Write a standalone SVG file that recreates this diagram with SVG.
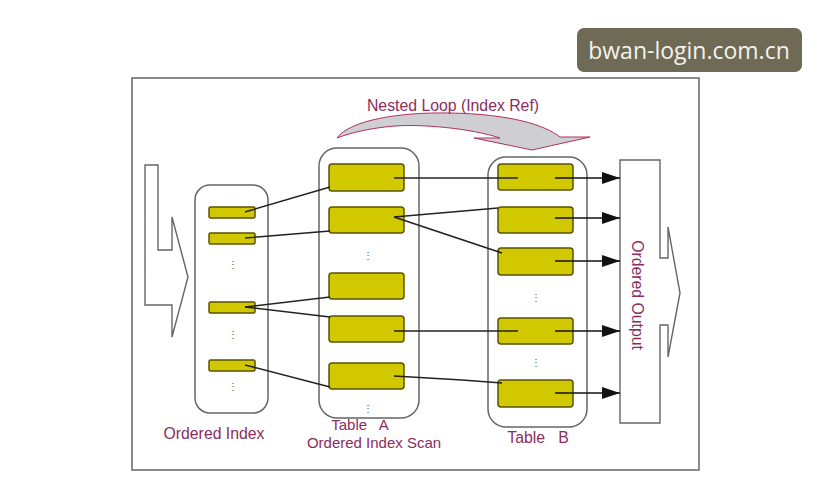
<svg xmlns="http://www.w3.org/2000/svg" width="829" height="502" viewBox="0 0 829 502">
<defs>
<marker id="ah" viewBox="0 0 18 12" refX="18" refY="6" markerWidth="18" markerHeight="12" markerUnits="userSpaceOnUse" orient="auto">
<path d="M0,0 L18,6 L0,12 Z" fill="#111"/>
</marker>
</defs>
<style>
.col{fill:#fff;stroke:#666;stroke-width:1.5}
.y{fill:#d2c800;stroke:#5a5200;stroke-width:1.5}
.ln{stroke:#222;stroke-width:1.4;fill:none}
.ar{stroke:#111;stroke-width:1.4;fill:none;marker-end:url(#ah)}
.lbl{font-family:"Liberation Sans",Arial,sans-serif;font-size:15.8px;fill:#8a2d5e;white-space:pre}
.sm{font-size:15px}
.dots{font-family:"Liberation Sans",Arial,sans-serif;font-size:10px;fill:#555;text-anchor:middle}
.sh{fill:#fff;stroke:#666;stroke-width:1.4}
</style>
<rect width="829" height="502" fill="#fff"/>
<rect x="132" y="78" width="567" height="392" fill="#fff" stroke="#666" stroke-width="1.5"/>

<g id="input-arrow">
<path class="sh" d="M145,165 L158,165 L158,250 L172,250 L172,217 L188,277 L172,337 L172,305 L145,305 Z"/>
</g>

<g id="nested-loop">
<path d="M337,138 C350,120 400,112 450,113 C510,114 545,125 560,137 L590,137 L532,150 L474,138 L500,138 C470,128 420,124 395,126 C370,128 350,133 337,138 Z" fill="#cfcfd2" stroke="#b03060" stroke-width="1"/>
<text class="lbl" x="453" y="111" text-anchor="middle">Nested Loop (Index Ref)</text>
</g>

<g id="ordered-index">
<rect class="col" x="195" y="185" width="73" height="228" rx="15"/>
<rect class="y" x="209" y="207" width="46" height="11" rx="1.5"/>
<rect class="y" x="209" y="233" width="46" height="11" rx="1.5"/>
<rect class="y" x="209" y="302" width="46" height="11" rx="1.5"/>
<rect class="y" x="209" y="360" width="46" height="11" rx="1.5"/>
<text class="dots" x="233" y="268">⋮</text>
<text class="dots" x="233" y="338">⋮</text>
<text class="dots" x="233" y="390">⋮</text>
<text class="lbl" x="214" y="439" text-anchor="middle">Ordered Index</text>
</g>

<g id="table-a">
<rect class="col" x="319" y="148" width="100" height="270" rx="18"/>
<rect class="y" x="329" y="164" width="75" height="27" rx="3"/>
<rect class="y" x="329" y="207" width="75" height="26" rx="3"/>
<rect class="y" x="329" y="273" width="75" height="26" rx="3"/>
<rect class="y" x="329" y="316" width="75" height="26" rx="3"/>
<rect class="y" x="329" y="363" width="75" height="26" rx="3"/>
<text class="dots" x="368" y="259">⋮</text>
<text class="dots" x="368" y="412">⋮</text>
<text class="lbl sm" x="360" y="430" text-anchor="middle" xml:space="preserve">Table   A</text>
<text class="lbl sm" x="374" y="448" text-anchor="middle">Ordered Index Scan</text>
</g>

<g id="table-b">
<rect class="col" x="488" y="157" width="99" height="270" rx="18"/>
<rect class="y" x="498" y="164" width="75" height="26" rx="3"/>
<rect class="y" x="498" y="207" width="75" height="26" rx="3"/>
<rect class="y" x="498" y="248" width="75" height="27" rx="3"/>
<rect class="y" x="498" y="318" width="75" height="26" rx="3"/>
<rect class="y" x="498" y="380" width="75" height="27" rx="3"/>
<text class="dots" x="536" y="301">⋮</text>
<text class="dots" x="536" y="366">⋮</text>
<text class="lbl" x="538" y="443" text-anchor="middle" xml:space="preserve">Table   B</text>
</g>

<g id="ordered-output">
<path class="sh" d="M620,160 L660,160 L660,258 L668,258 L668,227 L680,293 L668,357 L668,325 L660,325 L660,423 L620,423 Z"/>
<text class="lbl" x="0" y="0" text-anchor="middle" transform="translate(632,295) rotate(90)">Ordered Output</text>
</g>

<g id="connectors">
<line class="ln" x1="245" y1="212" x2="330" y2="187"/>
<line class="ln" x1="245" y1="238" x2="330" y2="231"/>
<line class="ln" x1="245" y1="307" x2="330" y2="297"/>
<line class="ln" x1="245" y1="307" x2="330" y2="317"/>
<line class="ln" x1="245" y1="365" x2="330" y2="387"/>
<line class="ln" x1="394" y1="178" x2="518" y2="178"/>
<line class="ln" x1="394" y1="217" x2="498" y2="208"/>
<line class="ln" x1="394" y1="217" x2="502" y2="253"/>
<line class="ln" x1="394" y1="331" x2="518" y2="331"/>
<polyline class="ln" points="394,376 462,380 502,383"/>
<line class="ar" x1="555" y1="178" x2="620" y2="178"/>
<line class="ar" x1="555" y1="218" x2="620" y2="218"/>
<line class="ar" x1="555" y1="261" x2="620" y2="261"/>
<line class="ar" x1="555" y1="331" x2="620" y2="331"/>
<line class="ar" x1="555" y1="393" x2="620" y2="393"/>
</g>

<g id="watermark">
<rect x="577" y="28" width="225" height="44" rx="7" fill="#6f6a56"/>
<text x="689" y="59" text-anchor="middle" font-family="'Open Sans','Noto Sans',sans-serif" font-size="23" fill="#f4f2ea">bwan-login.com.cn</text>
</g>
</svg>
